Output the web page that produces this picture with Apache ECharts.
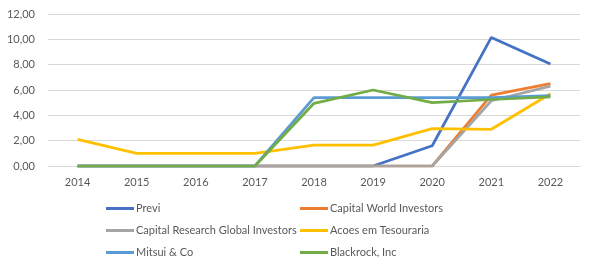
<!DOCTYPE html>
<html><head><meta charset="utf-8">
<script src="https://cdn.jsdelivr.net/npm/echarts@6/dist/echarts.min.js"></script>
<style>html,body{margin:0;padding:0;background:#fff}#c{width:596px;height:272px}</style>
</head><body><div id="c"></div>
<script>
var categories = ['2014','2015','2016','2017','2018','2019','2020','2021','2022'];
var previ = [0,0,0,0,0,0,1.6,10.15,8.05];
var capitalWorld = [0,0,0,0,0,0,0,5.6,6.5];
var capitalResearch = [0,0,0,0,0,0,0,5.15,6.3];
var acoes = [2.1,1.0,1.0,1.0,1.65,1.65,2.95,2.9,5.7];
var mitsui = [0,0,0,0,5.4,5.4,5.4,5.4,5.55];
var blackrock = [0,0,0,0,4.95,6.0,5.0,5.25,5.45];
var yTicks = {min:0,max:12,interval:2};

var names = ['Previ','Capital World Investors','Capital Research Global Investors','Acoes em Tesouraria','Mitsui & Co','Blackrock, Inc'];
var colors = ['#4472C4','#ED7D31','#A5A5A5','#FFC000','#5B9BD5','#70AD47'];
var datas = [previ,capitalWorld,capitalResearch,acoes,mitsui,blackrock];
var font = 'Lato, "Open Sans", sans-serif';
var series = names.map(function(n,i){
  return {name:n,type:'line',data:datas[i],symbol:'none',smooth:false,
    lineStyle:{width:2.75,color:colors[i]},itemStyle:{color:colors[i]},z:2+i};
});
var legendCommon = {orient:'vertical',top:203,itemWidth:28,itemHeight:3,itemGap:11,
  icon:'rect',textStyle:{color:'#595959',fontSize:11,fontFamily:font,padding:[0,0,0,-3]},padding:0};
var chart = echarts.init(document.getElementById('c'));
chart.setOption({
  animation:false,
  color:colors,
  grid:{left:48,right:16,top:14,bottom:106,containLabel:false},
  legend:[
    Object.assign({left:106,data:[names[0],names[2],names[4]]},legendCommon),
    Object.assign({left:300,data:[names[1],names[3],names[5]]},legendCommon)
  ],
  xAxis:{type:'category',data:categories,boundaryGap:true,
    axisLine:{lineStyle:{color:'#D9D9D9',width:1}},axisTick:{show:false},
    axisLabel:{color:'#595959',fontSize:11,fontFamily:font,margin:11}},
  yAxis:{type:'value',min:yTicks.min,max:yTicks.max,interval:yTicks.interval,
    axisLine:{show:false},axisTick:{show:false},
    splitLine:{lineStyle:{color:'#D9D9D9',width:1}},
    axisLabel:{color:'#595959',fontSize:11,fontFamily:font,margin:13,
      formatter:function(v){return v.toFixed(2).replace('.',',');}}},
  series:series
});
</script></body></html>
